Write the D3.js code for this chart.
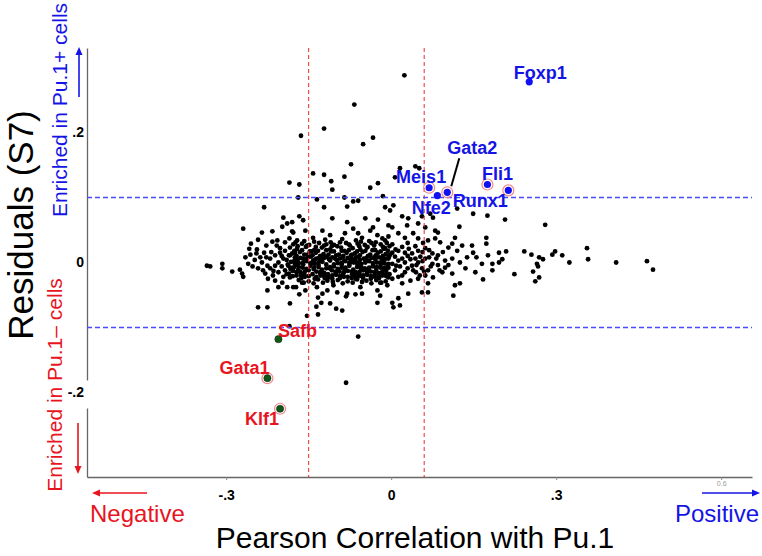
<!DOCTYPE html>
<html>
<head>
<meta charset="utf-8">
<script src="https://cdn.jsdelivr.net/npm/d3@7"></script>
<style>
  body { margin: 0; background: #fff; }
</style>
</head>
<body>
<div id="chart"></div>
<script>
/* ============================================================
   Residuals vs Pearson correlation with Pu.1
   ============================================================ */

// ---- axis ticks & cut-offs
const X_TICKS = [-0.3, 0, 0.3, 0.6];
const X_TICK_LABELS = ['-.3', '0', '.3', '0.6'];
const Y_TICKS = [0.2, 0, -0.2];
const Y_TICK_LABELS = ['.2', '0', '-.2'];
const CORR_CUTOFFS = [-0.15, 0.06];
const RESID_CUTOFFS = [0.1, -0.1];

// ---- highlighted genes
const GENES = ['Foxp1', 'Fli1', 'Runx1', 'Gata2', 'Meis1', 'Nfe2', 'Safb', 'Gata1', 'Klf1'];
const GENE_CORR = [0.251, 0.175, 0.213, 0.102, 0.069, 0.084, -0.205, -0.225, -0.202];
const GENE_RESID = [0.278, 0.120, 0.111, 0.108, 0.115, 0.103, -0.118, -0.178, -0.225];
const GENE_SIDE = ['pos', 'pos', 'pos', 'pos', 'pos', 'pos', 'neg', 'neg', 'neg'];
const GENE_RING = [false, true, true, true, true, false, false, true, true];

// ---- all other factors, [correlation, residual]
const upperPoints = [
  [0.024,0.288],[-0.067,0.243],[-0.122,0.206],[-0.164,0.195],[-0.033,0.192],[-0.051,0.182],
  [-0.073,0.151],[-0.142,0.137],[-0.122,0.135],[-0.085,0.132],[-0.109,0.125],[0.044,0.148],
  [0.051,0.145],[0.016,0.145],[0.007,0.131],[-0.185,0.123],[-0.167,0.120],[-0.107,0.112],
  [-0.038,0.115],[-0.024,0.122],[-0.169,0.100],[-0.135,0.097],[-0.085,0.100],[-0.069,0.094],
  [-0.060,0.095],[-0.015,0.102],[-0.231,0.085],[-0.122,0.085],[-0.080,0.086],[0.004,0.088],
  [-0.011,0.085],[-0.002,0.080],[0.020,0.071],[0.056,0.071],[0.071,0.075],[0.076,0.069],
  [0.120,0.083],[0.149,0.075],[0.175,0.072],[0.207,0.066],[0.280,0.058],[0.124,0.055],
  [-0.269,0.052],[-0.196,0.069],[-0.167,0.071],[-0.160,0.065],[-0.107,0.068],[-0.080,0.062],
  [-0.024,0.066],[-0.047,0.068],[-0.180,0.062],[-0.189,0.060],[-0.198,0.055]
];
const shoulderPoints = [
  [-0.235,0.046],[-0.216,0.048],[-0.180,0.048],[-0.242,0.035],[-0.255,0.029],[-0.227,0.026],
  [-0.216,0.032],[-0.207,0.034],[-0.193,0.031],[-0.185,0.037],[-0.178,0.046],[-0.156,0.049],
  [-0.125,0.049],[-0.111,0.042],[-0.084,0.045],[-0.069,0.052],[-0.060,0.045],[-0.053,0.038],
  [-0.025,0.042],[-0.016,0.037],[-0.005,0.040],[-0.142,0.038],[-0.171,0.034],[-0.033,0.054],
  [-0.038,0.049],[-0.005,0.057]
];
const leftClusterPoints = [
  [-0.231,0.015],[-0.245,0.014],[-0.256,0.012],[-0.238,0.008],[-0.260,-0.002],[-0.335,-0.005],
  [-0.329,-0.006],[-0.307,-0.002],[-0.307,-0.009],[-0.289,-0.014],[-0.275,-0.011],[-0.271,-0.017],
  [-0.269,-0.022],[-0.242,-0.009],[-0.235,0.000],[-0.225,-0.005],[-0.220,0.006],[-0.211,0.011],
  [-0.202,0.015],[-0.229,-0.017],[-0.215,-0.020],[-0.205,-0.015],[-0.211,-0.028],[-0.198,-0.031],
  [-0.193,0.018],[-0.184,0.011],[-0.196,0.006],[-0.205,0.000],[-0.187,-0.005],[-0.178,-0.009],
  [-0.193,-0.012],[-0.220,-0.009],[-0.184,-0.023],[-0.196,-0.022],[-0.176,0.003],[-0.211,-0.005],
  [-0.224,-0.025],[-0.202,0.022],[-0.184,0.023],[-0.175,0.015],
  [-0.248,0.004],[-0.252,-0.006],[-0.233,-0.012],[-0.218,0.016],[-0.227,0.008],[-0.214,-0.013],
  [-0.199,-0.006],[-0.190,0.004],[-0.199,0.010],[-0.208,0.026],[-0.190,-0.018],[-0.244,0.020],
  [-0.258,0.021],[-0.265,0.008]
];
const corePoints = [
  [-0.178,0.028],[-0.162,0.029],[-0.149,0.027],[-0.131,0.030],[-0.118,0.028],[-0.104,0.027],
  [-0.093,0.031],[-0.077,0.028],[-0.061,0.029],[-0.048,0.027],[-0.036,0.030],[-0.019,0.028],
  [-0.158,0.033],[-0.120,0.035],[-0.089,0.036],[-0.064,0.034],[-0.040,0.033],
  [-0.171,0.021],[-0.155,0.024],[-0.140,0.019],[-0.126,0.023],[-0.111,0.020],[-0.098,0.025],
  [-0.085,0.018],[-0.070,0.022],[-0.056,0.020],[-0.043,0.024],[-0.029,0.019],[-0.013,0.021],
  [-0.180,0.014],[-0.166,0.016],[-0.152,0.012],[-0.137,0.015],[-0.123,0.013],[-0.109,0.017],
  [-0.095,0.012],[-0.081,0.015],[-0.066,0.014],[-0.052,0.016],[-0.038,0.012],[-0.024,0.015],
  [-0.010,0.013],[-0.145,0.017],[-0.073,0.011],
  [-0.175,0.008],[-0.160,0.006],[-0.146,0.009],[-0.131,0.007],[-0.117,0.009],[-0.102,0.006],
  [-0.088,0.008],[-0.074,0.005],[-0.059,0.009],[-0.045,0.007],[-0.031,0.008],[-0.017,0.006],
  [-0.004,0.009],[-0.139,0.004],[-0.065,0.003],
  [-0.182,0.001],[-0.168,-0.001],[-0.153,0.002],[-0.139,-0.002],[-0.125,0.001],[-0.111,0.003],
  [-0.097,-0.001],[-0.083,0.002],[-0.068,0.000],[-0.054,-0.002],[-0.040,0.002],[-0.026,0.000],
  [-0.012,-0.001],[-0.118,-0.003],[-0.047,0.004],
  [-0.176,-0.006],[-0.161,-0.008],[-0.147,-0.005],[-0.132,-0.007],[-0.118,-0.009],[-0.104,-0.006],
  [-0.090,-0.008],[-0.076,-0.005],[-0.062,-0.007],[-0.048,-0.009],[-0.033,-0.006],[-0.019,-0.008],
  [-0.006,-0.005],[-0.154,-0.010],[-0.084,-0.011],
  [-0.179,-0.013],[-0.165,-0.015],[-0.150,-0.012],[-0.136,-0.014],[-0.122,-0.016],[-0.108,-0.012],
  [-0.094,-0.014],[-0.079,-0.013],[-0.065,-0.015],[-0.051,-0.012],[-0.037,-0.014],[-0.023,-0.016],
  [-0.009,-0.013],[-0.143,-0.018],[-0.071,-0.018],
  [-0.172,-0.020],[-0.157,-0.022],[-0.128,-0.020],[-0.114,-0.023],[-0.100,-0.019],[-0.086,-0.022],
  [-0.072,-0.024],[-0.058,-0.021],[-0.044,-0.019],[-0.030,-0.022],[-0.016,-0.020],
  [-0.168,-0.027],[-0.150,-0.029],[-0.133,-0.026],[-0.116,-0.028],[-0.097,-0.027],[-0.079,-0.029],
  [-0.062,-0.026],[-0.045,-0.028],[-0.027,-0.027],[-0.010,-0.029]
];
const coreFillPoints = [
  [-0.170,0.025],[-0.153,0.026],[-0.137,0.024],[-0.122,0.026],[-0.108,0.025],[-0.091,0.023],
  [-0.075,0.026],[-0.058,0.025],[-0.044,0.023],[-0.031,0.026],[-0.015,0.024],[-0.003,0.025],
  [-0.186,0.011],[-0.172,0.010],[-0.158,0.012],[-0.143,0.011],[-0.129,0.010],[-0.114,0.012],
  [-0.100,0.011],[-0.087,0.010],[-0.071,0.012],[-0.057,0.011],[-0.042,0.010],[-0.028,0.011],
  [-0.015,0.010],[-0.002,0.012],
  [-0.170,0.004],[-0.156,0.005],[-0.142,0.003],[-0.128,0.004],[-0.113,0.005],[-0.099,0.004],
  [-0.085,0.003],[-0.071,0.005],[-0.057,0.004],[-0.043,0.003],[-0.029,0.005],[-0.014,0.004],
  [-0.188,-0.003],[-0.174,-0.004],[-0.160,-0.003],[-0.146,-0.002],[-0.132,-0.004],[-0.104,-0.003],
  [-0.090,-0.004],[-0.076,-0.002],[-0.061,-0.003],[-0.033,-0.004],[-0.019,-0.003],[-0.005,-0.002],
  [-0.183,-0.010],[-0.169,-0.011],[-0.141,-0.010],[-0.126,-0.011],[-0.112,-0.009],[-0.097,-0.010],
  [-0.069,-0.011],[-0.055,-0.010],[-0.041,-0.011],[-0.027,-0.010],[-0.013,-0.009],
  [-0.186,-0.017],[-0.158,-0.018],[-0.129,-0.017],[-0.115,-0.018],[-0.101,-0.016],[-0.087,-0.017],
  [-0.058,-0.018],[-0.044,-0.017],[-0.030,-0.019],[-0.016,-0.017],[-0.003,-0.018],
  [-0.163,-0.024],[-0.139,-0.025],[-0.121,-0.024],[-0.107,-0.025],[-0.093,-0.024],[-0.065,-0.025],
  [-0.051,-0.024],[-0.037,-0.025],[-0.022,-0.024],[-0.005,-0.023]
];
const coreExtraPoints = [
  [-0.174,0.031],[-0.140,0.032],[-0.110,0.031],[-0.082,0.030],[-0.055,0.032],[-0.028,0.031],
  [-0.008,0.030],
  [-0.176,0.018],[-0.162,0.019],[-0.148,0.017],[-0.133,0.018],[-0.118,0.019],[-0.104,0.017],
  [-0.090,0.018],[-0.077,0.019],[-0.062,0.017],[-0.047,0.018],[-0.034,0.019],[-0.019,0.017],
  [-0.006,0.018],
  [-0.165,0.007],[-0.151,0.008],[-0.136,0.006],[-0.122,0.007],[-0.107,0.008],[-0.093,0.006],
  [-0.079,0.007],[-0.064,0.008],[-0.050,0.006],[-0.036,0.007],[-0.022,0.008],[-0.009,0.006],
  [-0.175,-0.001],[-0.160,0.000],[-0.146,-0.001],[-0.132,0.000],[-0.090,-0.001],[-0.075,0.000],
  [-0.061,-0.001],[-0.047,0.000],[-0.033,-0.001],[-0.019,0.000],
  [-0.183,-0.008],[-0.168,-0.007],[-0.140,-0.008],[-0.111,-0.007],[-0.083,-0.008],[-0.055,-0.007],
  [-0.040,-0.008],[-0.026,-0.007],[-0.012,-0.008],
  [-0.172,-0.015],[-0.157,-0.014],[-0.129,-0.015],[-0.101,-0.014],[-0.086,-0.015],[-0.072,-0.014],
  [-0.058,-0.015],[-0.044,-0.014],[-0.030,-0.015],[-0.016,-0.014],
  [-0.179,-0.021],[-0.164,-0.020],[-0.150,-0.021],[-0.136,-0.022],[-0.121,-0.021],[-0.107,-0.020],
  [-0.093,-0.021],[-0.079,-0.022],[-0.065,-0.021],[-0.051,-0.020],[-0.037,-0.021],[-0.023,-0.022],
  [-0.009,-0.021],
  [-0.159,-0.031],[-0.141,-0.032],[-0.124,-0.031],[-0.106,-0.030],[-0.088,-0.032],[-0.070,-0.031],
  [-0.053,-0.030],[-0.036,-0.032],[-0.018,-0.031]
];
const nearCutoffPoints = [
  [0.031,0.068],[0.002,0.054],[0.029,0.057],[0.049,0.060],[0.062,0.054],[0.080,0.049],
  [0.085,0.046],[0.013,0.045],[0.025,0.038],[0.040,0.045],[0.049,0.037],[0.067,0.034],
  [0.080,0.037],[0.089,0.031],[0.116,0.038],[0.111,0.029],[0.104,0.023],[0.120,0.018],
  [0.129,0.026],[0.147,0.026],[-0.011,0.022],[0.002,0.015],[0.013,0.018],[0.025,0.015],
  [0.038,0.014],[0.049,0.018],[0.062,0.022],[0.075,0.014],[0.085,0.011],[0.098,0.003],
  [0.111,0.006],[0.125,0.000],[0.138,0.008],[0.135,-0.009],[0.098,-0.008],[0.093,-0.015],
  [0.111,-0.017],[0.116,-0.035],[0.125,-0.032],[0.113,-0.051],[0.062,0.006],[0.075,-0.002],
  [0.049,0.000],[0.038,-0.005],[0.025,0.000],[0.013,0.003],[0.002,-0.002],[0.007,-0.012],
  [0.025,-0.015],[0.040,-0.012],[0.056,-0.009],[0.067,-0.012],[0.002,-0.025],[0.020,-0.032],
  [0.035,-0.028],[0.049,-0.025],[0.067,-0.032],[0.067,-0.046],[0.031,-0.048],[0.013,-0.055],
  [0.002,-0.062],[0.016,-0.066],[0.004,-0.069],[0.056,-0.046],[0.062,-0.020],[0.076,-0.023],
  [-0.005,0.006],[0.007,0.009],[0.020,0.006],[-0.005,-0.008],[0.016,-0.006],[0.035,0.005],
  [-0.009,-0.018],[0.013,-0.022],[0.045,-0.015],[-0.011,0.034],[0.002,0.028],[0.053,0.009],
  [0.008,0.020],[0.020,0.024],[0.032,0.021],[0.044,0.025],[0.057,0.016],[0.069,0.019],
  [0.030,0.010],[0.044,0.006],[0.057,0.002],[0.069,0.008],[0.009,-0.005],[0.030,-0.009],
  [0.046,-0.004],[0.060,-0.014],[0.072,-0.006],[0.085,-0.004],[0.082,0.006],[0.020,-0.020],
  [0.052,-0.020],[0.088,-0.012],[0.094,0.016],[0.104,-0.004],[0.030,0.030],[0.058,0.030]
];
const rightTailPoints = [
  [0.173,0.038],[0.173,0.029],[0.242,0.017],[0.255,0.012],[0.269,0.008],[0.276,0.005],
  [0.265,-0.002],[0.267,-0.006],[0.258,-0.014],[0.269,-0.023],[0.262,-0.029],[0.224,-0.018],
  [0.293,0.012],[0.298,0.017],[0.311,0.011],[0.324,0.000],[0.356,0.022],[0.358,0.005],
  [0.409,0.000],[0.465,0.002],[0.476,-0.011],[0.196,0.015],[0.209,0.017],[0.202,0.005],
  [0.196,0.000],[0.184,-0.002],[0.184,-0.012],[0.176,0.011],[0.167,-0.026],[0.165,-0.002],
  [0.155,0.008],[0.149,0.015],[0.153,-0.015]
];
const lowerPoints = [
  [-0.205,-0.038],[-0.189,-0.038],[-0.178,-0.038],[-0.225,-0.043],[-0.242,-0.069],[-0.225,-0.069],
  [-0.184,-0.063],[-0.167,-0.049],[-0.153,-0.082],[-0.133,-0.080],[-0.136,-0.068],[-0.127,-0.062],
  [-0.111,-0.063],[-0.100,-0.071],[-0.089,-0.074],[-0.082,-0.052],[-0.065,-0.049],[-0.060,-0.114],
  [-0.082,-0.185],[-0.185,-0.098],[-0.173,-0.038],[-0.162,-0.031],[-0.135,-0.038],[-0.133,-0.054],
  [-0.125,-0.048],[-0.105,-0.035],[-0.098,-0.046],[-0.080,-0.048],[-0.056,-0.038],[-0.053,-0.048],
  [-0.025,-0.043],[-0.020,-0.031],[-0.007,-0.035],[-0.025,-0.062],[-0.020,-0.051],[-0.156,-0.043],
  [-0.116,-0.043]
];

// ---- layout (pixels), kept apart from the data
const W = 762, H = 556;
const plot = { left: 87, right: 752, top: 48, bottom: 477 };
const COLORS = { pos: '#1414e6', neg: '#e8141e', posDot: '#1010f0', negDot: '#0d5a12', ring: '#f08a8a', axis: '#666' };
const LABEL_OFFSET = {
  Foxp1: [11, -9], Fli1: [10, -11], Runx1: [-28, 10], Gata2: [25, -45], Meis1: [-8, -11],
  Nfe2: [-6, 12], Safb: [19, -9], Gata1: [-23, -11], Klf1: [-18, 10]
};
const GATA2_LEADER = [[12, -34], [4, -6]];

const svg = d3.select('#chart').append('svg')
  .attr('width', W).attr('height', H)
  .style('font-family', '"Liberation Sans", Arial, Helvetica, sans-serif');

const x = d3.scaleLinear().domain([-0.553, 0.656]).range([plot.left, plot.right]);
const y = d3.scaleLinear().domain([-0.33, 0.33]).range([plot.bottom, plot.top]);

// Axes
const xAxis = svg.append('g').attr('transform', `translate(0,${plot.bottom})`)
  .call(d3.axisBottom(x).tickValues(X_TICKS).tickFormat((d, i) => X_TICK_LABELS[i]).tickSize(3).tickSizeOuter(0));
xAxis.select('.domain').attr('stroke', COLORS.axis).attr('stroke-width', 1.3);
xAxis.selectAll('.tick line').attr('stroke', '#888');
xAxis.selectAll('.tick text').attr('y', 13).attr('font-size', 14).attr('font-weight', 'bold').attr('fill', '#000').attr('font-family', null);
xAxis.selectAll('.tick text').filter(d => d === 0.6)
  .attr('y', 4).attr('font-size', 7).attr('font-weight', 'normal').attr('fill', '#999');

const yAxis = svg.append('g').attr('transform', `translate(${plot.left},0)`)
  .call(d3.axisLeft(y).tickValues(Y_TICKS).tickFormat((d, i) => Y_TICK_LABELS[i]).tickSize(0).tickPadding(3).tickSizeOuter(0));
yAxis.select('.domain').attr('stroke', COLORS.axis).attr('stroke-width', 1.3);
yAxis.selectAll('.tick text').attr('font-size', 14).attr('font-weight', 'bold').attr('fill', '#000').attr('font-family', null);
// the -.2 label box hides the axis line behind it
svg.append('rect').attr('x', plot.left - 2).attr('y', y(-0.2) - 12).attr('width', 4).attr('height', 28).attr('fill', '#fff');

// Cloud of factors
const cloud = [].concat(upperPoints, shoulderPoints, leftClusterPoints, corePoints, coreFillPoints,
  coreExtraPoints, nearCutoffPoints, rightTailPoints, lowerPoints);
svg.append('g').selectAll('circle').data(cloud).join('circle')
  .attr('cx', d => x(d[0])).attr('cy', d => y(d[1])).attr('r', 2.4).attr('fill', '#000');

// Cut-off lines
CORR_CUTOFFS.forEach(c => {
  svg.append('line').attr('x1', x(c)).attr('x2', x(c)).attr('y1', plot.top).attr('y2', plot.bottom)
    .attr('stroke', '#ee2a2a').attr('stroke-width', 1).attr('stroke-dasharray', '4,3');
});
RESID_CUTOFFS.forEach(r => {
  svg.append('line').attr('x1', plot.left).attr('x2', plot.right).attr('y1', y(r)).attr('y2', y(r))
    .attr('stroke', '#4a4aff').attr('stroke-width', 1.5).attr('stroke-dasharray', '5,3');
});

// Highlighted genes
const genes = GENES.map((g, i) => ({ name: g, corr: GENE_CORR[i], resid: GENE_RESID[i], side: GENE_SIDE[i], ring: GENE_RING[i] }));
const gx = genes.find(g => g.name === 'Gata2');
svg.append('line')
  .attr('x1', x(gx.corr) + GATA2_LEADER[0][0]).attr('y1', y(gx.resid) + GATA2_LEADER[0][1])
  .attr('x2', x(gx.corr) + GATA2_LEADER[1][0]).attr('y2', y(gx.resid) + GATA2_LEADER[1][1])
  .attr('stroke', '#000').attr('stroke-width', 2);

genes.forEach(g => {
  const cx = x(g.corr), cy = y(g.resid);
  if (g.ring) {
    svg.append('circle').attr('cx', cx).attr('cy', cy).attr('r', 5.5)
      .attr('fill', 'none').attr('stroke', COLORS.ring).attr('stroke-width', 1.2);
  }
  svg.append('circle').attr('cx', cx).attr('cy', cy).attr('r', 3.6)
    .attr('fill', g.side === 'pos' ? COLORS.posDot : COLORS.negDot)
    .attr('stroke', g.side === 'pos' ? 'none' : '#222').attr('stroke-width', 0.6);
});
genes.forEach(g => {
  const [dx, dy] = LABEL_OFFSET[g.name];
  svg.append('text').attr('x', x(g.corr) + dx).attr('y', y(g.resid) + dy).attr('dy', '0.35em')
    .attr('text-anchor', 'middle').attr('font-size', 18).attr('font-weight', 'bold')
    .attr('fill', g.side === 'pos' ? COLORS.pos : COLORS.neg).text(g.name);
});

// Titles & annotations
svg.append('text').attr('transform', 'translate(33,225) rotate(-90)').attr('text-anchor', 'middle')
  .attr('font-size', 35).attr('fill', '#000').text('Residuals (S7)');
svg.append('text').attr('x', 415).attr('y', 548).attr('text-anchor', 'middle')
  .attr('font-size', 30).attr('fill', '#000').text('Pearson Correlation with Pu.1');

svg.append('text').attr('transform', 'translate(67,110) rotate(-90)').attr('text-anchor', 'middle')
  .attr('font-size', 21).attr('fill', COLORS.pos).text('Enriched in Pu.1+ cells');
svg.append('text').attr('transform', 'translate(62,385) rotate(-90)').attr('text-anchor', 'middle')
  .attr('font-size', 21).attr('fill', COLORS.neg).text('Enriched in Pu.1\u2013 cells');

svg.append('text').attr('x', 90).attr('y', 522).attr('font-size', 24).attr('fill', COLORS.neg).text('Negative');
svg.append('text').attr('x', 759).attr('y', 522).attr('text-anchor', 'end').attr('font-size', 24).attr('fill', COLORS.pos).text('Positive');

function arrow(x1, y1, x2, y2, color) {
  const a = Math.atan2(y2 - y1, x2 - x1), len = 8, half = 3.5;
  const bx = x2 - Math.cos(a) * len, by = y2 - Math.sin(a) * len;
  svg.append('line').attr('x1', x1).attr('y1', y1).attr('x2', bx).attr('y2', by)
    .attr('stroke', color).attr('stroke-width', 1.6);
  svg.append('path')
    .attr('d', `M${x2},${y2}L${bx - Math.sin(a) * half},${by + Math.cos(a) * half}L${bx + Math.sin(a) * half},${by - Math.cos(a) * half}Z`)
    .attr('fill', color);
}
arrow(79, 97, 79, 47, COLORS.pos);
arrow(78, 423, 78, 474, COLORS.neg);
arrow(147, 493, 92, 493, COLORS.neg);
arrow(702, 493, 760, 493, COLORS.pos);
</script>
</body>
</html>
